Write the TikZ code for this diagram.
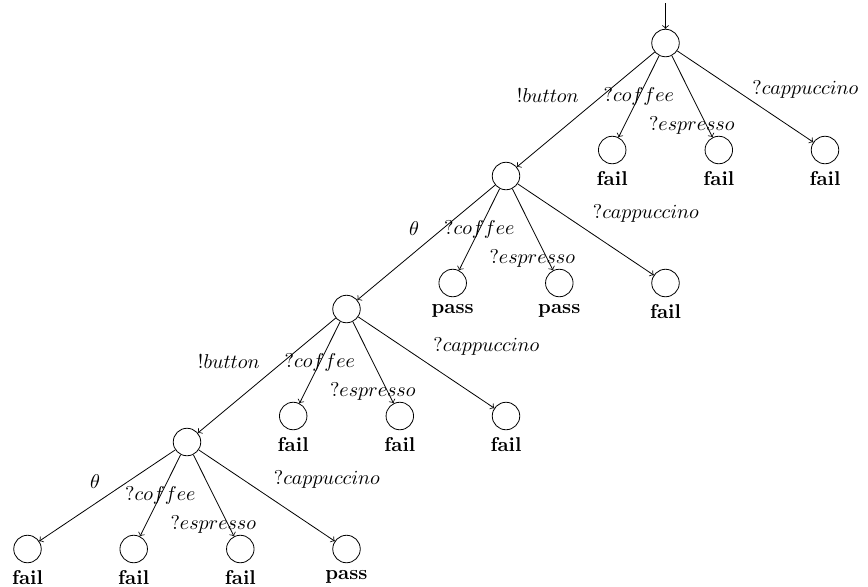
\documentclass[tikz,border=0pt]{standalone}
\usepackage{amsmath}
\usepackage{amssymb}
\usetikzlibrary{automata,arrows,positioning}

\begin{document}
\begin{tikzpicture}[->, >=to, thin, on grid]
\tikzstyle{every state}=[fill=white,draw=black,thin,text=black,minimum size=13.75pt,inner sep=0pt]
\tikzstyle{failnode}=[state,label=below:\textbf{fail}]
\tikzstyle{passnode}=[state,label=below:\textbf{pass}]
\useasboundingbox (0,0) rectangle (434pt,-293pt);
\node[state,initial above,initial text={}] (A) at (332.75pt,-21.5pt) {};
\node[state]    (B)[below left=66.5pt and 79.75pt of A]   {};
\node[failnode] (E)[below left=53.5pt and 26.65pt of A]   {};
\node[failnode] (F)[below right=53.5pt and 26.65pt of A]  {};
\node[failnode] (G)[below right=53.5pt and 79.75pt of A]  {};
\node[state]    (C)[below left=66.5pt and 79.75pt of B]   {};
\node[passnode] (H)[below left=53.5pt and 26.65pt of B]   {};
\node[passnode] (I)[below right=53.5pt and 26.65pt of B]  {};
\node[failnode] (J)[below right=53.5pt and 79.75pt of B]  {};
\node[state]    (D)[below left=66.5pt and 79.75pt of C]   {};
\node[failnode] (K)[below left=53.5pt and 26.65pt of C]   {};
\node[failnode] (L)[below right=53.5pt and 26.65pt of C]  {};
\node[failnode] (M)[below right=53.5pt and 79.75pt of C]  {};
\node[failnode] (N)[below left=53.5pt and 79.75pt of D]   {};
\node[failnode] (O)[below left=53.5pt and 26.65pt of D]   {};
\node[failnode] (P)[below right=53.5pt and 26.65pt of D]  {};
\node[passnode] (Q)[below right=53.5pt and 79.75pt of D]  {};
\path
(A) edge    node[above left]{$!button$}                         (B)
    edge    node{$?coffee$}                                     (E)
    edge    node[pos=0.85,xshift=-7.3pt]{$?espresso$}           (F)
    edge    node[above right,yshift=-4.5pt]{$?cappuccino$}      (G)
(B) edge    node[above left]{$\theta$}                          (C)
    edge    node{$?coffee$}                                     (H)
    edge    node[pos=0.85,xshift=-7.3pt]{$?espresso$}           (I)
    edge    node[above right]{$?cappuccino$}                    (J)
(C) edge    node[above left]{$!button$}                         (D)
    edge    node{$?coffee$}                                     (K)
    edge    node[pos=0.85,xshift=-7.3pt]{$?espresso$}           (L)
    edge    node[above right]{$?cappuccino$}                    (M)
(D) edge    node[above left]{$\theta$}                          (N)
    edge    node{$?coffee$}                                     (O)
    edge    node[pos=0.85,xshift=-7.3pt]{$?espresso$}           (P)
    edge    node[above right]{$?cappuccino$}                    (Q);
\end{tikzpicture}
\end{document}
